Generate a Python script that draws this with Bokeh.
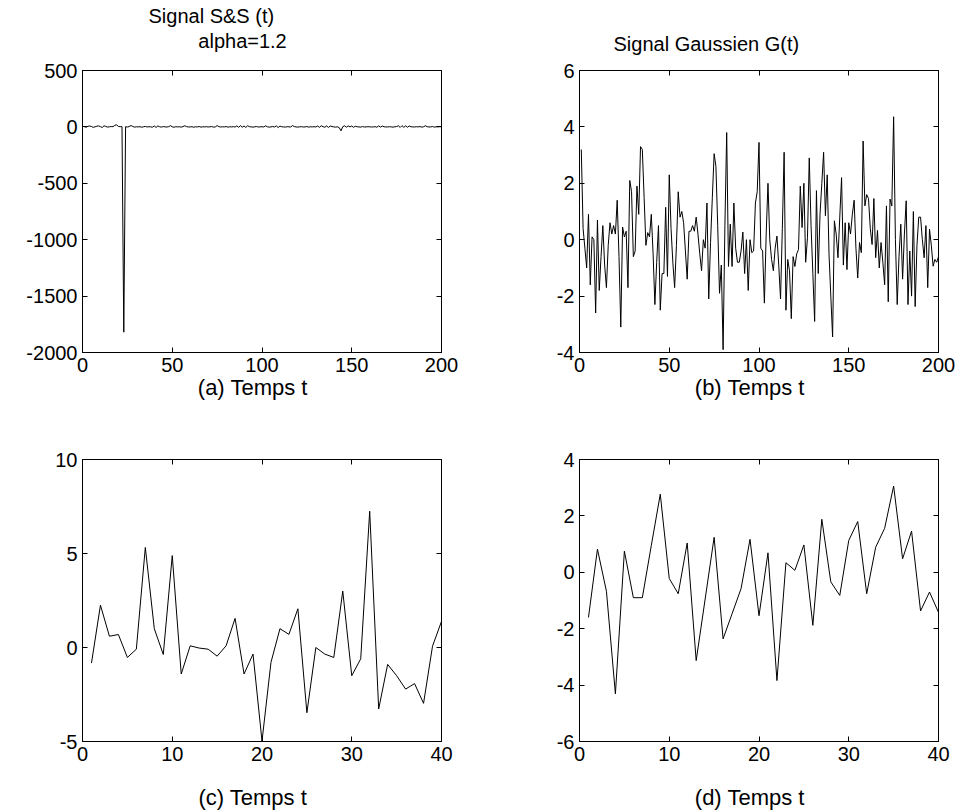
from bokeh.plotting import figure
from bokeh.layouts import column, row
from bokeh.models import Range1d, FixedTicker, LinearAxis, Title
from bokeh.embed import file_html
from bokeh.resources import INLINE

# ---------------- data ----------------
t_long = list(range(1, 201))
t_short = list(range(1, 41))

ss_signal = [
    2, -3, 5, 8, 3, -4, 1, 6, 9, 2,
    -5, 10, 4, -2, 1, 3, 2, 14, 18, 4,
    2, 3, -1820, 2, -1, 3, 12, 4, -2, 1,
    0, 2, -3, 1, 4, -1, 2, 0, -2, 8,
    -5, 9, 1, -2, 3, 0, -1, 2, 11, 1,
    -3, 2, 0, 1, -2, 3, 10, 2, -1, 0,
    2, -3, 1, 0, 3, -2, 1, 0, 2, -1,
    1, 3, -2, 0, 12, 2, -1, 1, 0, 3,
    -2, 1, 0, 2, -1, 9, -4, 11, -3, 8,
    -5, 10, 2, 0, -2, 1, 3, -1, 0, 2,
    -1, 10, 1, -2, 0, 3, -1, 9, -6, 7,
    1, 0, -2, 2, 1, -1, 12, 3, 0, -2,
    1, 2, -1, 0, 3, -2, 1, 0, 2, -1,
    8, -4, 10, 2, -3, 9, -5, 8, 3, 0,
    -2, 1, -6, -35, 2, 10, -3, 9, 0, 8,
    -4, 6, 1, 0, -2, 3, -1, 0, 2, 1,
    -1, 0, 2, -3, 9, -2, 8, 1, 0, -1,
    2, 0, -2, 1, 3, 10, -5, 11, -4, 9,
    -3, 8, 1, 0, -1, 2, 0, 3, -2, 1,
    10, 2, -1, 0, 3, -2, 1, 0, 2, 1,
]

gauss_signal = [
    3.2, 0.4, -0.3, -1.0, 0.9, -1.6, 0.1, 0.0, -2.6, 0.7,
    -1.8, -0.6, 0.5, -0.9, -1.7, -0.2, 0.6, 0.2, 0.5, 0.2,
    1.4, -0.6, -3.1, 0.45, 0.1, 0.3, -1.7, 2.1, 1.7, -0.6,
    -0.4, 1.9, 0.9, 3.3, 3.2, 1.5, -0.2, 0.25, 0.1, 0.9,
    -0.5, -2.3, -0.8, 0.5, -2.5, -1.2, -1.2, 1.15, -1.3, 2.3,
    0.4, -0.8, -1.7, -0.2, 1.7, 0.8, 1.0, 0.6, -0.4, -1.4,
    0.3, 0.3, 0.5, 0.3, 0.8, 0.2, -0.5, -1.1, 0.0, -0.3,
    1.3, -2.1, -0.1, 1.5, 3.05, 2.6, 0.5, -1.9, -0.9, -3.9,
    0.5, 3.8, -0.95, 0.55, -0.95, 1.3, -0.3, -0.8, -0.8, -0.4,
    0.27, -1.2, 0.0, -1.8, 0.0, -0.46, -0.4, 1.3, 1.7, 3.45,
    -0.3, -0.4, -2.25, 0.2, 2.0, 0.0, -0.7, -1.1, -0.3, 0.13,
    -0.9, -2.1, 0.4, 3.1, -2.5, -0.7, -1.1, -2.8, -0.6, -0.95,
    -0.5, -0.35, 1.9, 0.43, 2.0, -0.8, 0.07, 2.9, 0.5, -1.2,
    -2.9, 1.74, -1.2, 0.9, 2.0, 3.1, 0.85, 2.3, -0.5, -2.0,
    -3.45, 0.67, 0.2, -0.64, 0.8, 2.2, -0.9, 0.6, -1.06, 0.6,
    0.2, 0.9, 1.4, -0.3, -1.36, -0.1, -0.46, 3.5, 1.2, 1.6,
    1.46, 0.4, -0.17, 1.46, -0.64, 0.33, -1.0, -0.1, -0.8, -1.6,
    1.2, -2.2, 1.44, 1.2, 4.36, 0.0, -2.3, -0.6, 0.55, -1.4,
    0.2, 1.38, -2.3, -0.4, -2.0, 1.0, -2.37, -0.2, 0.8, 0.8,
    0.0, -0.64, 0.5, -1.7, 0.37, -0.2, -0.94, -0.7, -0.8, -0.6,
]

ss_zoom = [
    -0.83, 2.25, 0.6, 0.69, -0.53, -0.09, 5.32, 1.0, -0.37, 4.89,
    -1.41, 0.09, -0.03, -0.09, -0.46, 0.09, 1.55, -1.41, -0.35, -4.98,
    -0.79, 1.0, 0.7, 2.06, -3.47, 0.0, -0.35, -0.53, 3.0, -1.5,
    -0.6, 7.25, -3.27, -0.9, -1.5, -2.21, -1.92, -2.97, 0.07, 1.39,
]

gauss_zoom = [
    -1.6, 0.82, -0.67, -4.31, 0.75, -0.9, -0.9, 0.95, 2.77, -0.22,
    -0.76, 1.04, -3.13, -0.95, 1.24, -2.36, -1.47, -0.58, 1.17, -1.54,
    0.69, -3.84, 0.34, 0.07, 0.97, -1.88, 1.88, -0.34, -0.82, 1.13,
    1.8, -0.76, 0.89, 1.56, 3.06, 0.48, 1.46, -1.37, -0.7, -1.42,
]

xticks_long = [0, 50, 100, 150, 200]
xticks_short = [0, 10, 20, 30, 40]
yticks_a = [-2000, -1500, -1000, -500, 0, 500]
yticks_b = [-4, -2, 0, 2, 4, 6]
yticks_c = [-5, 0, 5, 10]
yticks_d = [-6, -4, -2, 0, 2, 4]

xlabels = ["(a) Temps t", "(b) Temps t", "(c) Temps t", "(d) Temps t"]
title_a1 = "Signal S&S (t)"
title_a2 = "alpha=1.2"
title_b = "Signal Gaussien G(t)"

FONT = "Liberation Sans"
FS_TICK = "20px"
FS_LABEL = "22px"
FS_TITLE = "20px"
NB = "\u00a0"   # trailing pad: MATLAB texts sit a bit left of centre


def style_axis(ax, ticks, labels=True):
    ax.ticker = FixedTicker(ticks=ticks)
    ax.major_tick_in = 5
    ax.major_tick_out = 0
    ax.minor_tick_line_color = None
    ax.axis_line_color = "black"
    ax.axis_line_width = 1
    ax.major_tick_line_color = "black"
    ax.major_label_text_font = FONT
    ax.major_label_overrides = {v: str(v) for v in ticks}
    if labels:
        ax.major_label_standoff = 5
        ax.major_label_text_font_size = FS_TICK
        ax.major_label_text_color = "black"
    else:
        ax.major_label_standoff = 0
        ax.major_label_text_font_size = "1px"
        ax.major_label_text_alpha = 0


def panel(x, y, xr, yr, xticks, yticks, xlabel, label_standoff, width, height,
          borders):
    l, r, t, b = borders
    p = figure(width=width, height=height,
               x_range=Range1d(*xr), y_range=Range1d(*yr),
               output_backend="svg", toolbar_location=None,
               min_border_left=l, min_border_right=r,
               min_border_top=t, min_border_bottom=b)
    p.line(x, y, line_color="black", line_width=1)
    p.grid.visible = False
    p.outline_line_color = "black"
    p.outline_line_width = 1
    p.background_fill_color = "white"
    p.border_fill_color = "white"
    style_axis(p.xaxis[0], xticks)
    style_axis(p.yaxis[0], yticks)
    p.xaxis[0].axis_label = xlabel + NB * 3
    p.xaxis[0].axis_label_text_font = FONT
    p.xaxis[0].axis_label_text_font_size = FS_LABEL
    p.xaxis[0].axis_label_text_font_style = "normal"
    p.xaxis[0].axis_label_text_color = "black"
    p.xaxis[0].axis_label_standoff = label_standoff
    right = LinearAxis()
    style_axis(right, yticks, labels=False)
    p.add_layout(right, "right")
    return p


def add_top_axis(p, ticks, label=None, standoff=0):
    top = LinearAxis()
    style_axis(top, ticks, labels=False)
    if label:
        top.axis_label = label
        top.axis_label_text_font = FONT
        top.axis_label_text_font_size = FS_TITLE
        top.axis_label_text_font_style = "normal"
        top.axis_label_text_color = "black"
        top.axis_label_standoff = standoff
    p.add_layout(top, "above")


def add_title(p, text, offset, standoff):
    p.add_layout(Title(text=text, align="left", offset=offset,
                       text_font=FONT, text_font_size=FS_TITLE,
                       text_font_style="normal", text_color="black",
                       standoff=standoff), "above")


pa = panel(t_long, ss_signal, (0, 200), (-2000, 500), xticks_long, yticks_a,
           xlabels[0], 0, 510, 425, (82, 69, 70, 73))
add_top_axis(pa, xticks_long, title_a2 + NB * 7, 19)
add_title(pa, title_a1, 66, 0)

pb = panel(t_long, gauss_signal, (0, 200), (-4, 6), xticks_long, yticks_b,
           xlabels[1], 0, 451, 425, (69, 23, 70, 73))
add_top_axis(pb, xticks_long)
add_title(pb, title_b, 34, 32)

pc = panel(t_short, ss_zoom, (0, 40), (-5, 10), xticks_short, yticks_c,
           xlabels[2], 21, 510, 387, (82, 69, 34, 69))
add_top_axis(pc, xticks_short)

pd = panel(t_short, gauss_zoom, (0, 40), (-6, 4), xticks_short, yticks_d,
           xlabels[3], 21, 451, 387, (69, 23, 34, 69))
add_top_axis(pd, xticks_short)

layout = column(row(pa, pb), row(pc, pd))

open("out.html", "w").write(file_html(layout, INLINE))
